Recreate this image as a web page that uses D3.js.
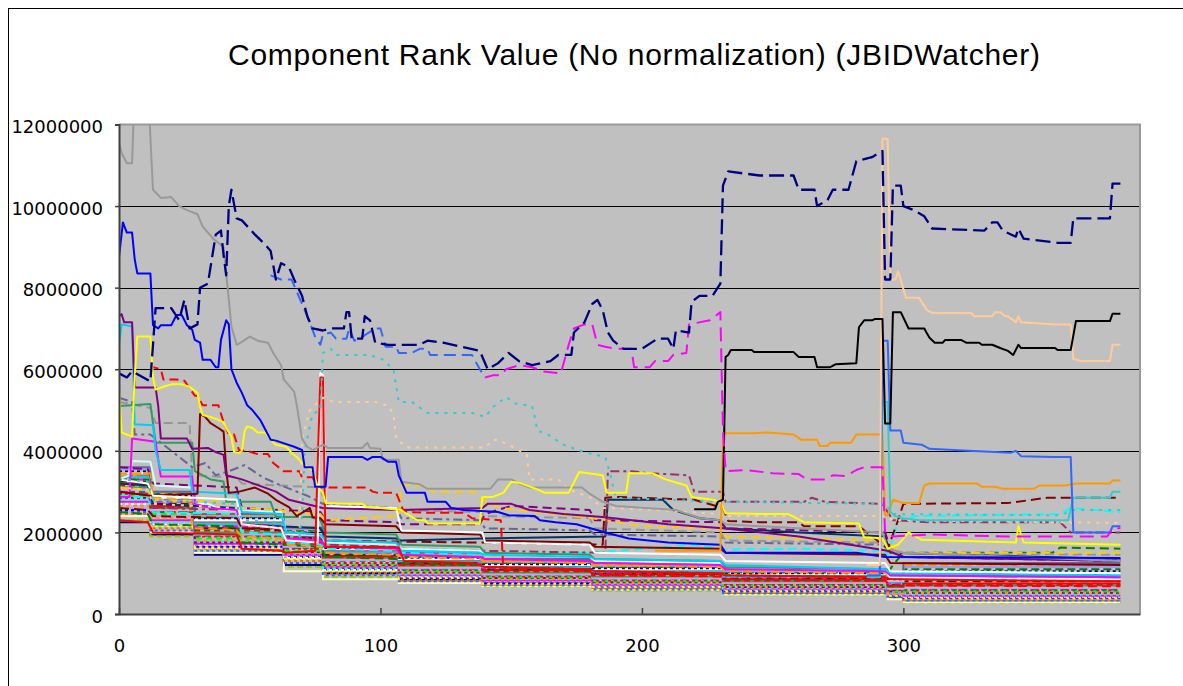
<!DOCTYPE html>
<html><head><meta charset="utf-8">
<script src="https://cdn.jsdelivr.net/npm/d3@7"></script>
<style>body{margin:0;background:#fff;} svg{display:block}</style>
</head><body><svg id="c" width="1183" height="686"></svg>
<script>
const TITLE = "Component Rank Value (No normalization) (JBIDWatcher)";
const yTicks = [0, 2000000, 4000000, 6000000, 8000000, 10000000, 12000000];
const xTicks = [0, 100, 200, 300];
const UNIT = 1e6; // series values below are in millions

// ---- prominent series: [x, value(millions)] ----
const navyDash = [[0,5.9],[3,5.8],[5,5.95],[12,5.7],[14,7.5],[20,7.5],[23,7.2],[25,7.7],[27,7.0],[30,7.1],[31,8.0],[34,8.1],[37,9.3],[39,9.4],[40,8.8],[41,8.3],[42,10.0],[43,10.4],[45,9.7],[47,9.65],[52,9.3],[56,9.05],[58,8.9],[60,8.2],[62,8.6],[65,8.5],[67,8.2],[70,7.8],[72,7.3],[74,7.0],[78,6.95],[81,7.0],[86,7.0],[87,7.4],[88,7.4],[89,6.75],[93,6.75],[94,7.3],[96,7.2],[98,6.65],[103,6.6],[115,6.6],[118,6.7],[124,6.65],[138,6.45],[141,6.0],[145,6.15],[149,6.4],[153,6.2],[158,6.1],[165,6.2],[168,6.35],[173,6.35],[174,6.9],[178,7.15],[181,7.6],[183,7.7],[185,7.45],[187,6.9],[189,6.7],[193,6.5],[200,6.5],[206,6.75],[210,6.75],[212,6.5],[213,6.95],[218,6.9],[219,7.65],[222,7.8],[227,7.8],[230,8.1],[231,10.5],[233,10.85],[245,10.75],[258,10.75],[260,10.4],[266,10.4],[267,10.0],[271,10.15],[273,10.4],[279,10.4],[282,11.1],[288,11.2],[292,11.35],[293,8.2],[295,8.2],[296,10.5],[299,10.5],[300,10.0],[304,9.9],[308,9.75],[311,9.45],[331,9.4],[334,9.6],[336,9.6],[338,9.4],[343,9.25],[344,9.45],[346,9.2],[359,9.1],[364,9.1],[365,9.7],[379,9.7],[380,10.55],[383,10.55]];
const royalDash = [[58,8.3],[62,8.2],[66,8.2],[70,7.6],[72,7.3],[75,6.8],[77,6.6],[78,6.85],[81,6.9],[83,6.75],[87,6.75],[88,7.0],[90,6.7],[92,6.75],[98,7.0],[100,7.0],[102,6.55],[106,6.55],[107,6.4],[112,6.4],[115,6.5],[118,6.5],[119,6.35],[135,6.35],[138,6.0],[140,5.8]];
const magentaDash = [[140,5.8],[143,5.85],[146,5.85],[148,6.0],[153,6.1],[158,6.05],[162,5.95],[169,5.9],[172,6.6],[174,7.0],[178,7.1],[181,7.1],[183,6.6],[186,6.55],[190,6.5],[196,6.5],[197,6.05],[203,6.05],[205,6.2],[210,6.2],[212,6.35],[217,6.4],[218,7.1],[226,7.2],[230,7.4],[231,4.5],[232,3.5],[240,3.53],[250,3.45],[260,3.43],[263,3.3],[270,3.3],[273,3.4],[278,3.38],[282,3.53],[285,3.6],[292,3.6],[293,2.0],[296,1.9],[310,1.95],[340,1.9],[378,1.9],[380,2.1],[383,2.1]];
const turqDot = [[0,3.3],[11,3.25],[13,2.8],[45,2.7],[47,2.3],[62,2.25],[64,1.9],[69,1.9],[70,2.4],[71,4.0],[74,4.9],[77,5.0],[78,6.4],[81,6.5],[83,6.35],[95,6.35],[100,6.28],[105,6.0],[107,5.2],[112,5.2],[118,4.93],[135,4.93],[140,4.83],[143,5.07],[148,5.32],[152,5.15],[158,5.1],[159,4.83],[160,4.5],[164,4.4],[170,4.15],[178,3.97],[186,3.85],[188,3.4],[190,2.85],[230,2.75],[293,2.7],[296,2.45],[360,2.42],[365,2.55],[383,2.55]];
const peachDot = [[0,3.1],[11,3.05],[13,2.7],[45,2.6],[47,2.2],[62,2.1],[64,1.9],[69,1.9],[70,4.3],[73,5.0],[78,5.3],[82,5.2],[98,5.2],[103,5.1],[105,4.9],[106,4.3],[110,4.08],[140,4.08],[143,4.27],[145,4.27],[152,4.05],[156,3.9],[157,3.3],[168,3.3],[172,3.05],[180,2.87],[185,2.6],[200,2.57],[230,2.45],[232,2.4],[293,2.4],[296,2.3],[383,2.23]];
const graySolid = [[0,11.55],[1,11.3],[3,11.05],[5,11.05],[6,13],[11,13],[13,10.4],[16,10.2],[20,10.22],[23,10.0],[26,9.9],[30,9.8],[32,9.5],[36,9.2],[40,9.0],[41,8.35],[43,7.05],[45,6.6],[47,6.67],[50,6.8],[53,6.7],[57,6.65],[59,6.4],[62,6.1],[63,5.75],[67,5.45],[68,5.12],[70,4.3],[72,4.1],[74,4.02],[78,4.15],[80,4.07],[93,4.07],[95,4.2],[96,4.07],[100,4.05],[101,3.78],[107,3.78],[108,3.24],[115,3.18],[118,3.07],[142,3.07],[145,3.3],[150,3.3],[153,3.2],[157,3.1],[177,3.1],[180,2.95],[185,2.75],[190,2.65],[213,2.55],[222,2.35],[230,2.3],[232,2.2],[260,2.1],[292,2.0],[294,1.6],[300,1.5],[383,1.3]];
const blueSolid = [[0,8.75],[1.5,9.6],[3,9.35],[5,9.35],[6,8.7],[7,8.35],[12,8.35],[13,7.08],[15,7.0],[16,7.08],[20,7.08],[22,7.33],[24,7.33],[26,7.08],[28,6.97],[29,6.72],[31,6.65],[32,6.23],[35,6.23],[37,6.05],[38,6.05],[39,6.72],[41,7.2],[42,7.1],[43,6.0],[45,5.67],[47,5.42],[49,5.12],[51,5.0],[54,4.76],[58,4.27],[60,4.25],[67,4.1],[70,4.02],[71,3.6],[74,3.6],[75,3.12],[79,3.12],[80,3.85],[93,3.85],[95,3.78],[97,3.85],[100,3.85],[103,3.73],[106,3.73],[107,3.4],[110,2.97],[117,2.97],[118,2.75],[125,2.75],[127,2.6],[132,2.55],[145,2.5],[149,2.42],[159,2.4],[161,2.3],[167,2.25],[175,2.2],[186,2.0],[195,1.85],[210,1.75],[230,1.7],[232,1.5],[282,1.5],[293,1.4],[383,1.37]];
const yellowSolid = [[0,5.57],[1,4.45],[5,4.35],[6,5.8],[7,6.8],[12,6.8],[13,5.8],[14,5.5],[17,5.57],[20,5.63],[24,5.63],[27,5.57],[30,5.42],[31,5.08],[32,4.88],[35,4.83],[38,4.76],[40,4.7],[41,4.56],[43,4.35],[44,3.97],[46,3.95],[47,4.0],[48,4.47],[49,4.6],[51,4.56],[53,4.45],[56,4.45],[58,4.27],[60,4.15],[64,4.1],[66,3.95],[68,3.85],[70,3.7],[72,3.6],[74,3.53],[76,3.12],[78,2.97],[79,2.72],[86,2.7],[93,2.7],[95,2.62],[100,2.6],[108,2.55],[109,2.5],[114,2.3],[117,2.3],[118,2.22],[138,2.22],[139,2.87],[143,2.87],[147,2.97],[150,3.24],[153,3.22],[159,3.08],[163,2.97],[172,2.97],[176,3.48],[185,3.4],[186.5,2.97],[194,2.97],[195,3.45],[204,3.45],[209,3.3],[217,3.15],[219,2.87],[227,2.8],[230,2.75],[232,2.47],[246,2.45],[256,2.45],[262,2.25],[283,2.22],[285,1.88],[292,1.86],[294,1.6],[298,1.7],[302,2.0],[307,1.82],[343,1.75],[344,2.15],[346,1.75],[383,1.7]];
const orangeSolid = [[205,1.55],[230,1.55],[231,4.4],[232,4.43],[242,4.43],[248,4.45],[258,4.4],[261,4.27],[267,4.27],[268,4.12],[271,4.12],[272,4.2],[280,4.2],[282,4.4],[292,4.4],[293,2.42],[294,2.42],[296,2.8],[300,2.72],[306,2.72],[308,3.15],[310,3.2],[328,3.2],[330,3.12],[335,3.12],[338,3.07],[350,3.07],[352,3.15],[362,3.15],[366,3.2],[379,3.2],[380,3.27],[383,3.27]];
const blackSolid = [[220,2.57],[228,2.57],[229,2.75],[231,2.8],[232,6.3],[233,6.35],[234,6.47],[242,6.47],[243,6.42],[258,6.42],[260,6.3],[266,6.3],[267,6.05],[272,6.05],[274,6.12],[282,6.15],[283,7.03],[285,7.2],[288,7.2],[289,7.23],[292,7.23],[293,4.67],[295,4.67],[296,7.4],[299,7.4],[302,7.0],[308,7.0],[309,6.88],[310,6.77],[312,6.65],[315,6.65],[316,6.72],[322,6.72],[324,6.65],[329,6.65],[330,6.6],[334,6.6],[337,6.52],[340,6.45],[342,6.35],[344,6.6],[345,6.52],[358,6.52],[359,6.47],[364,6.47],[366,7.18],[379,7.18],[380,7.36],[383,7.36]];
const peachSolid = [[286,1.2],[291,1.2],[292,11.65],[294,11.65],[295,8.2],[297,8.2],[298,8.4],[301,7.75],[306,7.75],[309,7.45],[311,7.38],[326,7.38],[327,7.3],[334,7.3],[335,7.4],[337,7.4],[339,7.3],[340,7.3],[343,7.15],[344,7.3],[345,7.15],[358,7.1],[364,7.1],[365,6.25],[368,6.2],[379,6.2],[380,6.6],[383,6.6]];
const royalSolid = [[286,0.95],[291,0.95],[292,6.7],[294,6.7],[295,4.5],[299,4.5],[300,4.2],[307,4.15],[310,4.05],[325,4.0],[341,3.95],[343,4.0],[345,3.87],[357,3.85],[364,3.85],[365,2.0],[379,2.0],[380,2.15],[383,2.15]];
const turqSolid = [[286,0.9],[291,0.9],[292,5.2],[294,5.2],[295,2.5],[297,2.4],[300,2.35],[306,2.3],[363,2.3],[365,2.85],[379,2.85],[380,3.0],[383,3.0]];
const redDash = [[12,6.1],[13,6.05],[16,6.0],[17,5.75],[22,5.75],[25,5.72],[29,5.35],[30,5.35],[32,5.12],[38,5.12],[40,4.7],[42,4.4],[44,4.4],[46,4.0],[49,4.0],[53,3.92],[57,3.92],[59,3.7],[63,3.5],[69,3.5],[70,3.35],[74,3.35],[76,3.1],[95,3.1],[97,3.0],[99,2.97],[106,2.97],[109,2.5],[120,2.48],[132,2.48],[135,2.35],[146,2.3],[147,1.1],[180,1.05],[182,0.95],[230,0.92],[232,0.85],[293,0.82],[295,0.7],[383,0.68]];
const redSolid = [[0,2.3],[11,2.25],[13,2.0],[45,1.95],[47,1.6],[62,1.55],[64,1.5],[75,1.55],[77,5.8],[78,5.8],[79,1.65],[107,1.63],[109,1.3],[135,1.25],[138,1.2],[140,1.15],[180,1.1],[182,1.05],[230,1.0],[232,0.95],[293,0.9],[295,0.85],[383,0.8]];
const whiteSolid = [[0,3.3],[11,3.2],[13,2.9],[45,2.8],[47,2.2],[62,2.1],[64,1.8],[76,1.75],[77,5.9],[78,5.85],[79,2.65],[106,2.6],[108,2.05],[139,2.0],[140,1.75],[180,1.7],[182,1.5],[230,1.45],[232,1.3],[293,1.25],[295,1.05],[383,1.0]];
const maroonSolid = [[0,3.0],[12,2.9],[30,2.95],[31,4.9],[33,4.83],[35,4.68],[38,4.56],[40,4.47],[41,3.55],[42,2.97],[46,3.0],[52,3.1],[57,2.95],[60,2.8],[65,2.62],[68,2.4],[73,2.6],[74,2.38],[77,2.35],[79,2.2],[106,2.15],[108,2.0],[138,1.95],[140,1.8],[180,1.75],[182,1.65],[230,1.6],[232,1.5],[293,1.45],[295,1.25],[383,1.2]];
const purpleSolid = [[0,7.3],[1,7.35],[2,7.15],[5,7.15],[6,5.55],[14,5.55],[15,5.1],[16,4.3],[26,4.3],[28,4.05],[34,4.07],[37,3.97],[40,3.9],[41,3.4],[47,3.3],[60,3.0],[65,2.8],[78,2.6],[107,2.55],[139,2.6],[141,2.7],[150,2.7],[157,2.55],[170,2.45],[185,2.38],[210,2.2],[231,2.1],[260,1.9],[294,1.55],[300,1.4],[383,1.3]];
const skySolid = [[0,6.6],[1,7.1],[5,7.05],[6,4.65],[13,4.63],[14,4.0],[16,3.53],[27,3.53],[28,3.0],[45,2.95],[47,2.5],[62,2.45],[64,2.0],[77,1.95],[79,1.8],[106,1.75],[108,1.55],[138,1.5],[140,1.45],[180,1.4],[182,1.35],[230,1.3],[232,1.2],[293,1.1],[295,1.0],[383,0.95]];
const magentaSolid = [[0,2.87],[4,2.87],[5,4.3],[14,4.22],[16,3.37],[28,3.37],[29,2.7],[35,2.6],[45,2.55],[47,2.2],[62,2.1],[64,1.85],[77,1.8],[79,1.65],[106,1.6],[108,1.45],[138,1.4],[140,1.35],[180,1.3],[182,1.25],[230,1.2],[232,1.1],[293,1.05],[295,0.95],[383,0.9]];
const lightCyan = [[0,3.3],[4,3.4],[5,3.75],[12,3.73],[14,3.15],[28,3.1],[29,2.7],[34,2.7],[40,2.55],[62,2.5],[64,2.0],[77,1.95],[79,1.75],[106,1.7],[108,1.6],[138,1.55],[140,1.45],[180,1.4],[182,1.3],[230,1.25],[232,1.15],[293,1.05],[295,0.9],[383,0.85]];
const seaGreen = [[0,5.1],[12,5.15],[14,4.2],[28,4.2],[29,3.5],[35,3.3],[40,3.25],[41,2.75],[58,2.75],[60,2.38],[73,2.38],[77,2.3],[79,2.0],[106,1.95],[108,1.7],[138,1.65],[140,1.5],[180,1.45],[182,1.35],[230,1.3],[232,1.15],[293,1.1],[295,0.95],[383,0.9]];
const orangeDash = [[0,3.38],[5,3.38],[8,3.45],[12,3.45],[13,2.85],[27,2.85],[28,2.1],[35,2.1],[45,2.05],[47,1.9],[62,1.85],[64,1.7],[77,1.65],[79,1.5],[106,1.45],[108,1.4],[138,1.35],[140,1.3],[180,1.25],[182,1.2],[230,1.15],[232,1.05],[293,1.0],[295,0.9],[383,0.85]];
const goldDash = [[0,3.1],[11,3.05],[13,2.8],[45,2.75],[47,2.6],[62,2.55],[64,2.5],[77,2.45],[79,2.3],[107,2.4],[108,3.15],[117,3.15],[120,3.0],[136,3.0],[140,2.75],[146,2.6],[160,2.5],[181,2.35],[200,2.15],[230,2.1],[232,1.9],[293,1.8],[295,1.7],[300,1.5],[383,1.5]];
const maroonDash = [[0,2.6],[11,2.55],[13,2.4],[45,2.35],[47,2.1],[62,2.05],[64,1.9],[77,1.85],[79,1.8],[139,1.75],[185,1.7],[186,2.85],[190,2.87],[220,2.8],[231,2.6],[233,2.28],[245,2.25],[260,2.25],[262,2.15],[283,2.15],[290,1.8],[294,1.6],[298,2.3],[300,2.7],[340,2.72],[355,2.85],[383,2.85]];
const plumDash = [[0,3.0],[11,2.95],[13,2.6],[45,2.55],[47,2.2],[62,2.15],[64,1.9],[77,1.85],[79,1.7],[106,1.65],[108,1.6],[139,1.55],[186,1.5],[187,3.5],[196,3.5],[203,3.45],[218,3.4],[220,3.0],[231,3.0],[232,2.75],[262,2.75],[265,2.85],[270,2.75],[292,2.7],[296,2.3],[310,2.25],[360,2.25],[364,2.0],[383,2.0]];
const cyanDash = [[0,2.9],[11,2.85],[13,2.5],[45,2.45],[47,2.0],[62,1.95],[64,1.75],[77,1.7],[79,1.6],[106,1.55],[108,1.5],[139,1.45],[181,1.5],[200,1.6],[220,1.7],[231,1.58],[260,1.6],[293,1.55],[294,1.4],[298,2.3],[305,2.4],[360,2.45],[364,2.6],[383,2.5]];
const slateDash = [[0,5.3],[5,5.2],[6,4.4],[12,4.4],[28,3.6],[33,3.7],[37,3.4],[42,3.5],[48,3.65],[55,3.35],[62,3.15],[72,2.9],[78,2.7],[85,2.67],[106,2.6],[108,2.35],[138,2.3],[140,2.1],[180,2.05],[182,1.95],[230,1.9],[232,1.75],[293,1.7],[295,1.4],[383,1.35]];
const grayDash = [[0,5.2],[12,5.05],[14,4.68],[27,4.68],[28,3.4],[45,3.35],[47,3.2],[77,3.1],[79,2.67],[106,2.6],[108,2.55],[138,2.5],[140,2.4],[180,2.35],[182,2.1],[230,2.0],[232,1.8],[293,1.75],[295,1.5],[383,1.45]];
const purpleDash = [[0,3.6],[11,3.55],[13,3.2],[45,3.1],[47,2.6],[77,2.5],[79,2.3],[106,2.25],[108,2.2],[138,2.2],[140,2.45],[150,2.65],[165,2.6],[180,2.55],[182,2.3],[230,2.25],[232,2.1],[293,2.0],[295,1.6],[300,1.4],[383,1.3]];
const darkTeal = [[0,3.2],[11,3.15],[13,2.7],[45,2.6],[47,2.2],[77,2.1],[79,1.9],[106,1.85],[108,1.8],[139,1.85],[186,1.9],[187,2.8],[208,2.8],[212,2.55],[222,2.35],[230,2.3],[232,2.1],[260,2.0],[293,1.9],[295,1.5],[383,1.35]];
const greenDash = [[0,2.5],[11,2.45],[13,2.2],[45,2.15],[47,1.75],[77,1.65],[79,1.4],[106,1.35],[108,1.25],[138,1.2],[140,1.15],[180,1.1],[182,1.05],[230,1.0],[232,0.95],[293,0.9],[296,1.2],[300,1.5],[357,1.5],[360,1.63],[383,1.6]];

// ---- dense lower bundle: step values at bundleX ----
const bundleX = [0, 12, 29, 63, 78, 107, 139, 181, 231, 294, 300, 383];
const b01 = [2.25,1.95,1.45,1.2,1.0,0.85,0.75,0.62,0.5,0.4,0.3,0.3];
const b02 = [2.3,1.9,1.5,1.15,0.9,0.78,0.66,0.57,0.46,0.38,0.27,0.27];
const b03 = [2.4,2.0,1.5,1.05,0.85,0.76,0.68,0.6,0.48,0.36,0.29,0.29];
const b04 = [2.5,2.05,1.55,1.25,0.95,0.8,0.7,0.6,0.5,0.42,0.33,0.33];
const b05 = [2.45,2.1,1.6,1.3,1.0,0.83,0.72,0.63,0.52,0.44,0.35,0.35];
const b06 = [2.6,2.15,1.62,1.35,1.05,0.88,0.74,0.66,0.55,0.45,0.38,0.38];
const b07 = [2.55,2.2,1.65,1.4,1.1,0.9,0.78,0.68,0.57,0.46,0.4,0.4];
const b08 = [2.7,2.2,1.7,1.38,1.08,0.92,0.8,0.7,0.6,0.48,0.42,0.42];
const b09 = [2.75,2.3,1.72,1.45,1.15,0.95,0.82,0.72,0.62,0.5,0.45,0.45];
const b10 = [2.8,2.25,1.78,1.48,1.12,0.97,0.85,0.74,0.63,0.52,0.47,0.47];
const b11 = [2.65,2.35,1.8,1.5,1.18,1.0,0.86,0.76,0.65,0.5,0.5,0.5];
const b12 = [2.85,2.4,1.75,1.52,1.2,1.02,0.88,0.78,0.66,0.55,0.52,0.52];
const b13 = [2.9,2.45,1.85,1.55,1.22,1.05,0.9,0.8,0.7,0.56,0.55,0.55];
const b14 = [2.95,2.5,1.9,1.6,1.25,1.08,0.92,0.82,0.72,0.58,0.58,0.58];
const b15 = [3.0,2.5,1.92,1.62,1.3,1.1,0.95,0.85,0.74,0.6,0.6,0.6];
const b16 = [2.6,2.4,1.95,1.65,1.32,1.12,0.97,0.87,0.76,0.62,0.64,0.64];
const b17 = [3.05,2.55,1.98,1.68,1.35,1.15,1.0,0.9,0.78,0.64,0.67,0.67];
const b18 = [3.1,2.6,2.0,1.7,1.38,1.18,1.02,0.92,0.8,0.66,0.7,0.7];
const b19 = [3.15,2.62,2.05,1.72,1.4,1.2,1.05,0.95,0.82,0.68,0.72,0.72];
const b20 = [3.2,2.65,2.1,1.75,1.42,1.22,1.08,0.98,0.85,0.7,0.75,0.75];
const b21 = [3.25,2.7,2.1,1.78,1.45,1.25,1.1,1.0,0.88,0.72,0.8,0.8];
const b22 = [3.3,2.75,2.15,1.8,1.5,1.28,1.12,1.02,0.9,0.75,0.85,0.85];
const b23 = [3.35,2.8,2.2,1.85,1.52,1.3,1.15,1.05,0.92,0.78,0.9,0.9];
const b24 = [3.4,2.82,2.25,1.9,1.55,1.32,1.18,1.08,0.95,0.8,0.95,0.95];
const b25 = [3.45,2.85,2.3,1.95,1.6,1.35,1.2,1.1,0.98,0.82,1.0,1.0];
const b26 = [3.5,2.9,2.35,2.0,1.62,1.38,1.22,1.12,1.0,0.85,1.05,1.05];
const b27 = [3.3,2.95,2.38,2.05,1.65,1.4,1.25,1.15,1.02,0.88,1.1,1.1];
const b28 = [3.55,3.0,2.4,2.08,1.7,1.45,1.28,1.18,1.05,0.9,1.15,1.15];
const b29 = [3.45,2.98,2.42,2.1,1.72,1.48,1.3,1.2,1.08,0.92,1.2,1.2];
const b30 = [3.6,3.0,2.45,2.12,1.75,1.5,1.35,1.25,1.1,0.95,1.25,1.25];

// ---- styles (kept separate from data) ----
const bundleStyles = [
  [b01,"#000080",""],[b02,"#99CC00","6,3"],[b03,"#FFFFCC",""],[b04,"#3366FF","3,3"],
  [b05,"#FF6600","3,3"],[b06,"#FFFF00","3,3"],[b07,"#0000FF","3,3"],[b08,"#FFFFFF","3,3"],
  [b09,"#FF00FF",""],[b10,"#00FFFF","3,3"],[b11,"#FF9900","4,3"],[b12,"#800080","3,3"],
  [b13,"#00FF00","6,4"],[b14,"#FF0000","3,3"],[b15,"#008080","6,4"],[b16,"#CC99FF",""],
  [b17,"#FF99CC",""],[b18,"#339966",""],[b19,"#993300","6,4"],[b20,"#FF0000",""],
  [b21,"#333300","8,4"],[b22,"#FF00FF","6,4"],[b23,"#00CCFF",""],[b24,"#808080",""],
  [b25,"#FFFFFF",""],[b26,"#000080","3,3"],[b27,"#008000","8,4"],[b28,"#9999FF",""],
  [b29,"#FF9900","8,4"],[b30,"#666699",""]
];
const seriesStyles = [
  [greenDash,"#008000","9,5",2],[cyanDash,"#00FFFF","9,5",2],[darkTeal,"#003366","",2],
  [purpleDash,"#800080","9,5",2],[grayDash,"#969696","9,5",2],[slateDash,"#666699","9,4,3,4",2],
  [orangeDash,"#FF9900","9,5",2],[goldDash,"#FFCC00","9,5",2],[maroonDash,"#800000","10,5",2],
  [plumDash,"#993366","9,4,3,4",2],[lightCyan,"#CCFFFF","",2],[seaGreen,"#339966","",2],
  [magentaSolid,"#FF00FF","",2],[skySolid,"#00CCFF","",2],[maroonSolid,"#800000","",2],
  [purpleSolid,"#800080","",2],[whiteSolid,"#FFFFFF","",2],[redSolid,"#FF0000","",2],
  [redDash,"#FF0000","9,5",2],[peachDot,"#FFCC99","3,6",2],[turqDot,"#33CCCC","3,6",2],
  [graySolid,"#999999","",2],[yellowSolid,"#FFFF00","",2],[blueSolid,"#0000FF","",2],
  [orangeSolid,"#FF9900","",2],[turqSolid,"#33CCCC","",2],[royalSolid,"#3366FF","",2],
  [peachSolid,"#FFCC99","",2],[blackSolid,"#000000","",2],
  [royalDash,"#3366FF","12,6",2],[magentaDash,"#FF00FF","14,7",2],[navyDash,"#000080","15,6",2.3]
];

const svg = d3.select("#c");
const L = 119, R = 1140, T = 124.5, B = 614;
const x = d3.scaleLinear().domain([0, 390.5]).range([L, R]);
const y = d3.scaleLinear().domain([0, 12000000]).range([B, T]);

// chart frame
svg.append("rect").attr("x", 8.5).attr("y", 8.5).attr("width", 1400).attr("height", 900)
  .attr("fill", "#fff").attr("stroke", "#000").attr("stroke-width", 1);

// plot area
svg.append("rect").attr("x", L).attr("y", T).attr("width", R - L).attr("height", B - T)
  .attr("fill", "#C0C0C0");

// gridlines
svg.append("g").selectAll("line").data(yTicks.filter(d => d > 0 && d < 12000000)).join("line")
  .attr("x1", L).attr("x2", R).attr("y1", d => Math.round(y(d)) + 0.5).attr("y2", d => Math.round(y(d)) + 0.5)
  .attr("stroke", "#000").attr("stroke-width", 1);

svg.append("defs").append("clipPath").attr("id", "clip")
  .append("rect").attr("x", L).attr("y", T).attr("width", R - L).attr("height", B - T);

const g = svg.append("g").attr("clip-path", "url(#clip)");
const line = d3.line().x(d => x(d[0])).y(d => y(d[1] * UNIT));
const stepLine = d3.line().x(d => x(d[0])).y(d => y(d[1] * UNIT)).curve(d3.curveStepAfter);

bundleStyles.forEach(([vals, color, dash]) => {
  const pts = bundleX.map((bx, i) => [bx, vals[i]]);
  g.append("path").attr("d", stepLine(pts)).attr("fill", "none")
    .attr("stroke", color).attr("stroke-width", 2).attr("stroke-dasharray", dash || null);
});
seriesStyles.forEach(([pts, color, dash, w]) => {
  g.append("path").attr("d", line(pts)).attr("fill", "none")
    .attr("stroke", color).attr("stroke-width", w).attr("stroke-dasharray", dash || null)
    .attr("stroke-linejoin", "round");
});

// plot border: top/right gray
svg.append("path").attr("d", `M${L},${T}H${R}V${B}`).attr("fill", "none")
  .attr("stroke", "#999").attr("stroke-width", 2);

// axes
const yAxis = svg.append("g").attr("transform", `translate(${L},0)`)
  .call(d3.axisLeft(y).tickValues(yTicks).tickSize(4).tickPadding(12).tickFormat(d3.format("d")));
yAxis.select(".domain").attr("stroke", "#404040").attr("stroke-width", 2);
yAxis.selectAll(".tick line").attr("stroke", "#404040").attr("stroke-width", 1.5);
yAxis.selectAll("text").attr("font-family", "DejaVu Sans, sans-serif").attr("font-size", 18)
  .attr("fill", "#000").attr("dy", "0.45em");

const xAxis = svg.append("g").attr("transform", `translate(0,${B})`)
  .call(d3.axisBottom(x).tickValues(xTicks).tickSizeInner(-6).tickSizeOuter(0));
xAxis.select(".domain").attr("stroke", "#404040").attr("stroke-width", 2);
xAxis.selectAll(".tick line").attr("stroke", "#404040").attr("stroke-width", 1.5);
xAxis.selectAll("text").attr("font-family", "DejaVu Sans, sans-serif").attr("font-size", 18)
  .attr("fill", "#000").attr("y", 38).attr("dy", 0);

// title
svg.append("text").attr("x", 634).attr("y", 65).attr("text-anchor", "middle")
  .attr("font-family", "Liberation Sans, Arial, sans-serif").attr("font-size", 30)
  .attr("textLength", 812).attr("lengthAdjust", "spacing")
  .text(TITLE);
</script></body></html>
